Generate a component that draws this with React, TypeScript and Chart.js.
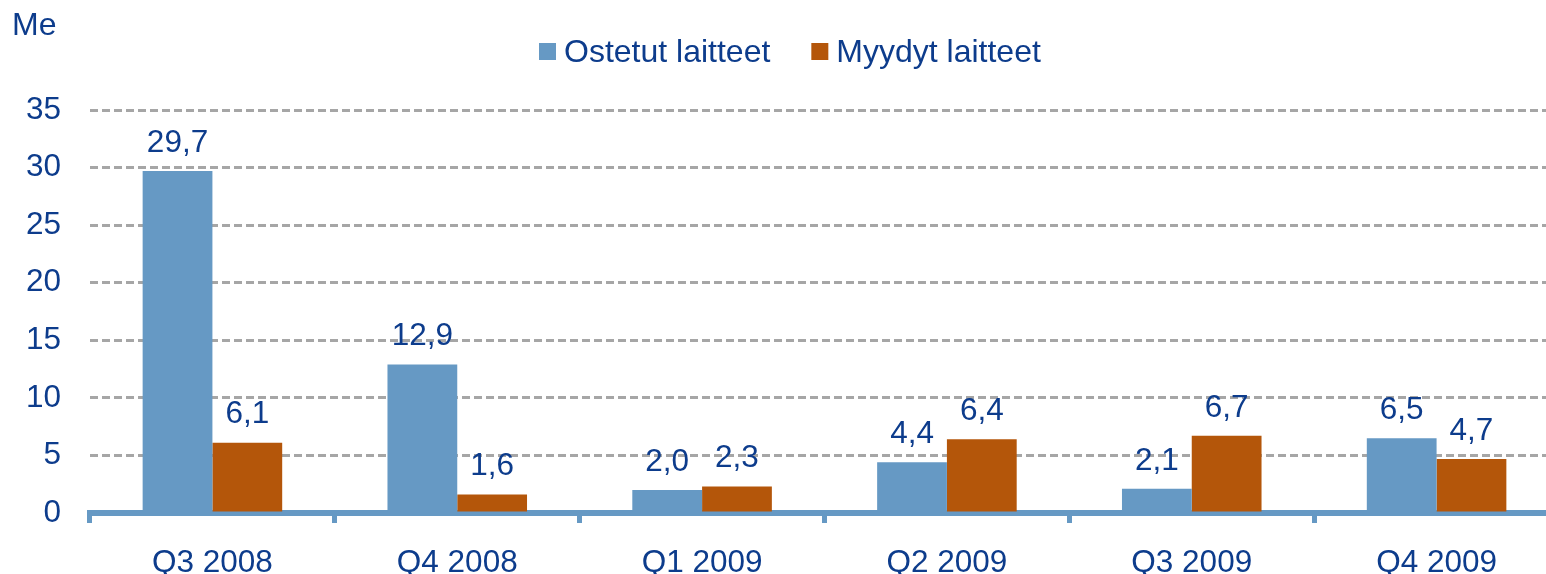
import React, { useEffect, useRef } from "react";
import { Chart, registerables } from "chart.js";

Chart.register(...registerables);

const categories = ["Q3 2008", "Q4 2008", "Q1 2009", "Q2 2009", "Q3 2009", "Q4 2009"];
const ostetutLaitteet = [29.7, 12.9, 2.0, 4.4, 2.1, 6.5];
const myydytLaitteet = [6.1, 1.6, 2.3, 6.4, 6.7, 4.7];
const seriesNames = ["Ostetut laitteet", "Myydyt laitteet"];
const seriesColors = ["#6699c4", "#b4560a"];
const yMin = 0;
const yMax = 35;
const yStep = 5;
const unitLabel = "Me";

const FONT = "'Liberation Sans', Arial, sans-serif";
const TEXT = "#0d3c8c";
const FONT_SIZE = 31.5;
const LEGEND_SIZE = 32;

const fmt = (v: number) => v.toFixed(1).replace(".", ",");

const overlayPlugin = {
  id: "overlay",
  afterDraw(chart: any) {
    const ctx = chart.ctx as CanvasRenderingContext2D;
    ctx.save();
    ctx.fillStyle = TEXT;

    // unit label
    ctx.font = `${LEGEND_SIZE}px ${FONT}`;
    ctx.textAlign = "left";
    ctx.textBaseline = "middle";
    ctx.fillText(unitLabel, 12, 26);

    // legend
    let x = 539;
    const ly = 51;
    chart.data.datasets.forEach((ds: any) => {
      ctx.fillStyle = ds.backgroundColor;
      ctx.fillRect(x, ly - 8, 17, 17);
      x += 17 + 8;
      ctx.fillStyle = TEXT;
      ctx.textBaseline = "middle";
      ctx.fillText(ds.label, x, ly + 2);
      x += ctx.measureText(ds.label).width + 41;
    });

    // data labels
    ctx.font = `${FONT_SIZE}px ${FONT}`;
    ctx.textAlign = "center";
    ctx.textBaseline = "middle";
    chart.data.datasets.forEach((ds: any, i: number) => {
      const meta = chart.getDatasetMeta(i);
      meta.data.forEach((bar: any, j: number) => {
        ctx.fillText(fmt(ds.data[j]), bar.x, bar.y - 28);
      });
    });
    ctx.restore();
  },
};

export default function App() {
  const ref = useRef<HTMLCanvasElement>(null);

  useEffect(() => {
    if (!ref.current) return;
    const chart = new Chart(ref.current, {
      type: "bar",
      data: {
        labels: categories,
        datasets: [
          {
            label: seriesNames[0],
            data: ostetutLaitteet,
            backgroundColor: seriesColors[0],
            categoryPercentage: 0.57,
            barPercentage: 1,
          },
          {
            label: seriesNames[1],
            data: myydytLaitteet,
            backgroundColor: seriesColors[1],
            categoryPercentage: 0.57,
            barPercentage: 1,
          },
        ],
      },
      options: {
        responsive: false,
        animation: false,
        devicePixelRatio: 1,
        layout: { padding: { top: 110, right: 11, bottom: 0, left: 0 } },
        plugins: {
          legend: { display: false },
          tooltip: { enabled: false },
        },
        scales: {
          x: {
            z: 1,
            grid: {
              offset: true,
              drawOnChartArea: false,
              drawTicks: true,
              tickLength: 10,
              color: seriesColors[0],
              lineWidth: 5,
            },
            border: { display: true, color: seriesColors[0], width: 6 },
            ticks: {
              padding: 21,
              color: TEXT,
              font: { family: FONT, size: FONT_SIZE },
              maxRotation: 0,
            },
            afterFit: (s: any) => {
              s.height = 61;
            },
          },
          y: {
            min: yMin,
            max: yMax,
            ticks: {
              stepSize: yStep,
              padding: 29,
              color: TEXT,
              font: { family: FONT, size: FONT_SIZE },
            },
            grid: {
              drawTicks: false,
              color: (c: any) => (c.tick && c.tick.value === 0 ? "rgba(0,0,0,0)" : "#a6a6a6"),
              lineWidth: 3,
            },
            border: { display: false, dash: [8, 4] },
            afterFit: (s: any) => {
              s.width = 90;
            },
          },
        },
      },
      plugins: [overlayPlugin],
    } as any);
    return () => chart.destroy();
  }, []);

  return (
    <div
      style={{
        position: "fixed",
        left: 0,
        top: 0,
        width: "100vw",
        height: "100vh",
        overflow: "hidden",
        background: "#fff",
      }}
    >
      <canvas ref={ref} width={1570} height={574} style={{ display: "block" }} />
    </div>
  );
}
